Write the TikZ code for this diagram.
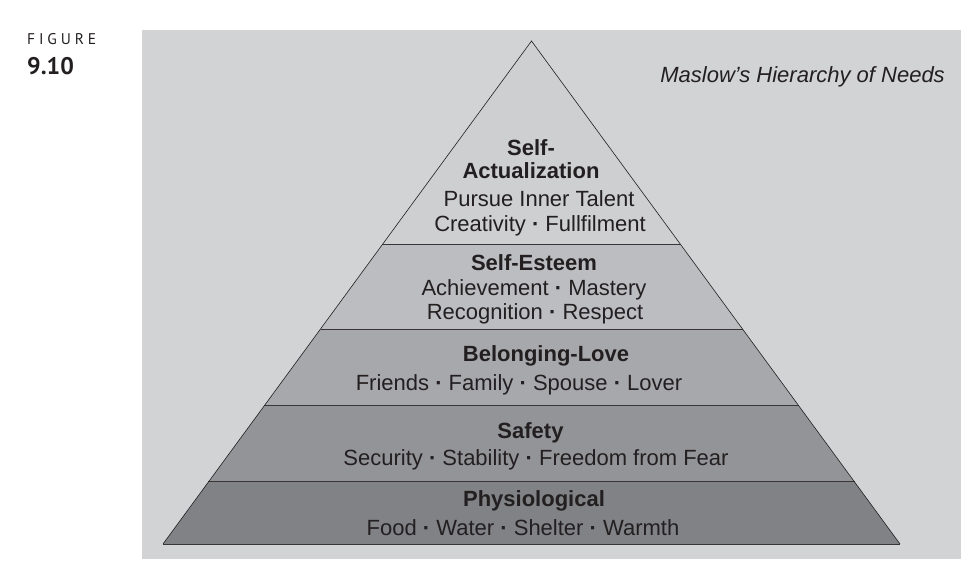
\documentclass[tikz,border=0pt]{standalone}
\usepackage{fontspec}
\setmainfont{Liberation Sans}
\newfontfamily\figfont{PT Sans}
\usetikzlibrary{calc}
\definecolor{ink}{RGB}{35, 31, 32}
\definecolor{panel}{HTML}{D1D3D4}
\definecolor{tierA}{HTML}{CDCFD1}
\definecolor{tierB}{HTML}{BCBDC0}
\definecolor{tierC}{HTML}{A7A8AB}
\definecolor{tierD}{HTML}{939497}
\definecolor{tierE}{HTML}{808285}

\begin{document}
\begin{tikzpicture}[x=1pt, y=-1pt,
    edge/.style={draw=ink, line width=0.6pt, line join=miter},
    divider/.style={draw=ink!90, line width=1pt},
    head/.style={anchor=base, inner sep=0pt, text=ink,
        font=\fontsize{22}{24}\selectfont\bfseries},
    body/.style={anchor=base, inner sep=0pt, text=ink,
        font=\fontsize{22}{24}\selectfont}
]
\useasboundingbox (0,0) rectangle (980,572);

% figure number
\node[anchor=base west, inner sep=0pt, text=ink, font=\figfont\fontsize{15.5}{16}\selectfont\addfontfeature{LetterSpace=25}] (figword) at (27,45) {FIGURE};
\node[anchor=base west, inner sep=0pt, text=ink, font=\figfont\fontsize{24}{26}\selectfont\bfseries] (fignum) at (27,75) {9.10};

% panel
\fill[panel] (142,30) rectangle (961,559);
\node[anchor=base east, inner sep=0pt, text=ink, font=\fontsize{22}{24}\selectfont\itshape] (caption) at (945,83) {Maslow’s Hierarchy of Needs};

% pyramid corners and tier boundaries
\coordinate (apex) at (531.5,41);
\coordinate (bl) at (163,544);
\coordinate (br) at (900,544);
\foreach \n/\t in {1/0.4036, 2/0.5726, 3/0.7256, 4/0.8767} {
    \coordinate (cut\n L) at ($(apex)!\t!(bl)$);
    \coordinate (cut\n R) at ($(apex)!\t!(br)$);
}

\fill[tierA] (apex) -- (cut1L) -- (cut1R) -- cycle;
\fill[tierB] (cut1L) -- (cut2L) -- (cut2R) -- (cut1R) -- cycle;
\fill[tierC] (cut2L) -- (cut3L) -- (cut3R) -- (cut2R) -- cycle;
\fill[tierD] (cut3L) -- (cut4L) -- (cut4R) -- (cut3R) -- cycle;
\fill[tierE] (cut4L) -- (bl) -- (br) -- (cut4R) -- cycle;

\foreach \n in {1,2,3,4} {
    \draw[divider] (cut\n L) -- (cut\n R);
}
\draw[divider] (bl) -- (br);
\draw[edge] (bl) -- (apex) -- (br);

% tier texts
\node[head] (actA) at (531,156) {Self-};
\node[head] (actB) at (531,179) {Actualization};
\node[body] (actC) at (539,207) {Pursue Inner Talent};
\node[body] (actD) at (540,232) {Creativity {\bfseries·} Fullfilment};

\node[head] (estA) at (534,270) {Self-Esteem};
\node[body] (estB) at (534,295) {Achievement {\bfseries·} Mastery};
\node[body] (estC) at (535,319) {Recognition {\bfseries·} Respect};

\node[head] (loveA) at (546,361) {Belonging-Love};
\node[body] (loveB) at (519,390) {Friends {\bfseries·} Family {\bfseries·} Spouse {\bfseries·} Lover};

\node[head] (safeA) at (530.5,438) {Safety};
\node[body] (safeB) at (536,465) {Security {\bfseries·} Stability {\bfseries·} Freedom from Fear};

\node[head] (physA) at (534,506) {Physiological};
\node[body] (physB) at (523,535) {Food {\bfseries·} Water {\bfseries·} Shelter {\bfseries·} Warmth};

\end{tikzpicture}
\end{document}
